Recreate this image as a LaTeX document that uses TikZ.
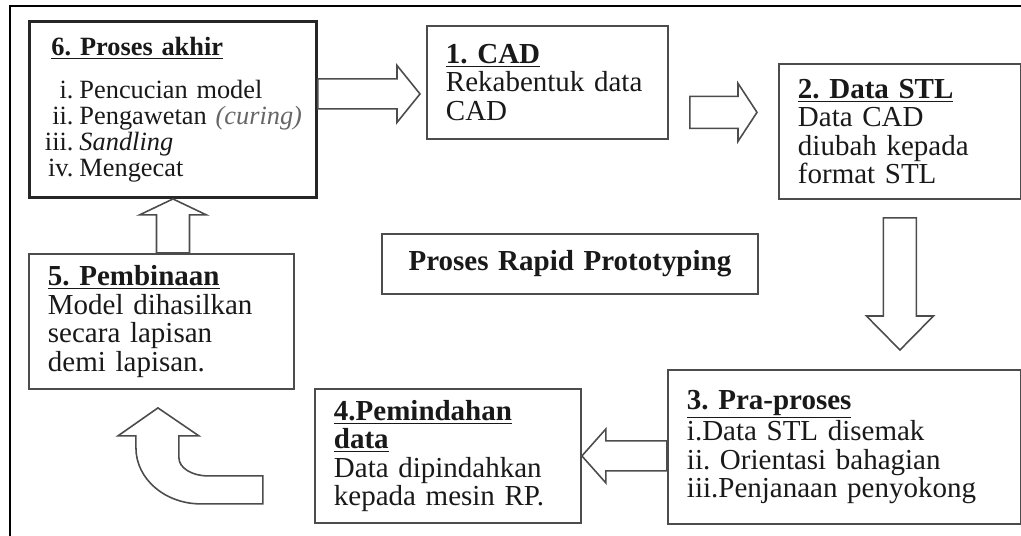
\documentclass[tikz,border=0pt]{standalone}
\usepackage{fontspec}
\setmainfont{Liberation Serif}
\usetikzlibrary{calc}
\frenchspacing

\newcommand{\bodyfont}{\fontsize{16.5pt}{16.2pt}\selectfont}
\newcommand{\listfont}{\fontsize{15pt}{14.8pt}\selectfont}
\newcommand{\itm}[2]{\makebox[0.64cm][r]{#1}\hspace{0.12cm}#2}
% hollow block arrow: start, tip, shaft half width, head half width, head length
\newcommand{\blockarrow}[5]{%
  \coordinate (ba-h) at ($(#2)!#5!(#1)$);
  \draw[blockarr] ($(#1)!#3!90:(#2)$) -- ($(ba-h)!#3!-90:(#1)$) -- ($(ba-h)!#4!-90:(#1)$) -- (#2)
    -- ($(ba-h)!#4!90:(#1)$) -- ($(ba-h)!#3!90:(#1)$) -- ($(#1)!#3!-90:(#2)$) -- cycle;
}

\tikzset{
  box/.style={draw=black!70, line width=1.1pt, anchor=north west, align=left,
    inner xsep=0.38cm, inner ysep=0pt, font=\bodyfont, text=black!90},
  blockarr/.style={draw=black!70, line width=0.9pt, line join=miter}
}

\begin{document}
\begin{tikzpicture}[x=0.02cm, y=-0.02cm]
\useasboundingbox (0,0) rectangle (1021,536);
% frame
\draw[line width=1.5pt] (10,536) -- (10,6) -- (1021,6);

% boxes
\node[box, draw=black!85, line width=1.7pt, inner xsep=0.24cm, font=\listfont,
  minimum width=5.74cm, minimum height=3.52cm, text width=5.26cm] (finish) at (28,20)
  {\hspace*{0.2cm}\underline{\textbf{6. Proses akhir}}\\[0.34cm]
   \itm{i.}{Pencucian model}\\
   \itm{ii.}{Pengawetan \textit{\color{black!60}(curing)}}\\
   \itm{iii.}{\textit{Sandling}}\\
   \itm{iv.}{Mengecat}};
\node[box, minimum width=4.82cm, minimum height=2.26cm, text width=4.06cm] (cad) at (426,25)
  {\underline{\textbf{1. CAD}}\\Rekabentuk data\\CAD};
\node[box, minimum width=4.84cm, minimum height=2.70cm, text width=4.08cm] (stl) at (778,63)
  {\underline{\textbf{2. Data STL}}\\Data CAD\\diubah kepada\\format STL};
\node[box, minimum width=7.06cm, minimum height=3.08cm, text width=6.30cm] (pra) at (667,369)
  {\underline{\textbf{3. Pra-proses}}\\i.Data STL disemak\\ii. Orientasi bahagian\\iii.Penjanaan penyokong\\[0.17cm]};
\node[box, minimum width=5.32cm, minimum height=2.68cm, text width=4.56cm] (trans) at (314,388)
  {\underline{\textbf{4.Pemindahan}}\\\underline{\textbf{data}}\\Data dipindahkan\\kepada mesin RP.};
\node[box, minimum width=5.30cm, minimum height=2.70cm, text width=4.54cm] (build) at (28,253)
  {\underline{\textbf{5. Pembinaan}}\\Model dihasilkan\\secara lapisan\\demi lapisan.};
\node[box, align=center, minimum width=7.52cm, minimum height=1.2cm, text width=6.76cm] (title) at (381,233)
  {\textbf{Proses Rapid Prototyping}};

% block arrows
\coordinate (t61) at ($(cad.north west)!0.6!(cad.south west)+(-6,0)$);
\coordinate (s61) at (finish.east |- t61);
\blockarrow{s61}{t61}{0.3cm}{0.57cm}{0.46cm}

\coordinate (s12) at ($(cad.north east)!0.76!(cad.south east)+(21,0)$);
\coordinate (t12) at ($(stl.west |- s12)+(-21,0)$);
\blockarrow{s12}{t12}{0.32cm}{0.58cm}{0.38cm}

\coordinate (s23) at ($(stl.south)+(0,18)$);
\coordinate (t23) at ($(stl.south |- pra.north)+(0,-19)$);
\blockarrow{s23}{t23}{0.33cm}{0.67cm}{0.68cm}

\coordinate (s34) at (pra.west |- trans.east);
\blockarrow{s34}{trans.east}{0.3cm}{0.54cm}{0.48cm}

\coordinate (s56) at (finish.south |- build.north);
\blockarrow{s56}{finish.south}{0.33cm}{0.67cm}{0.32cm}

% curved arrow up to box 5
\coordinate (u) at ($(build.south)+(-3.5,18)$);
\draw[blockarr, shift={(u)}] (0,0) -- (41,28) -- (21,28) -- (21,50)
  .. controls (21,60) and (34,68) .. (50,68) -- (105,68) -- (105,96) -- (43,96)
  .. controls (7,96) and (-22,71) .. (-22,40) -- (-22,28) -- (-40,28) -- cycle;
\end{tikzpicture}
\end{document}
